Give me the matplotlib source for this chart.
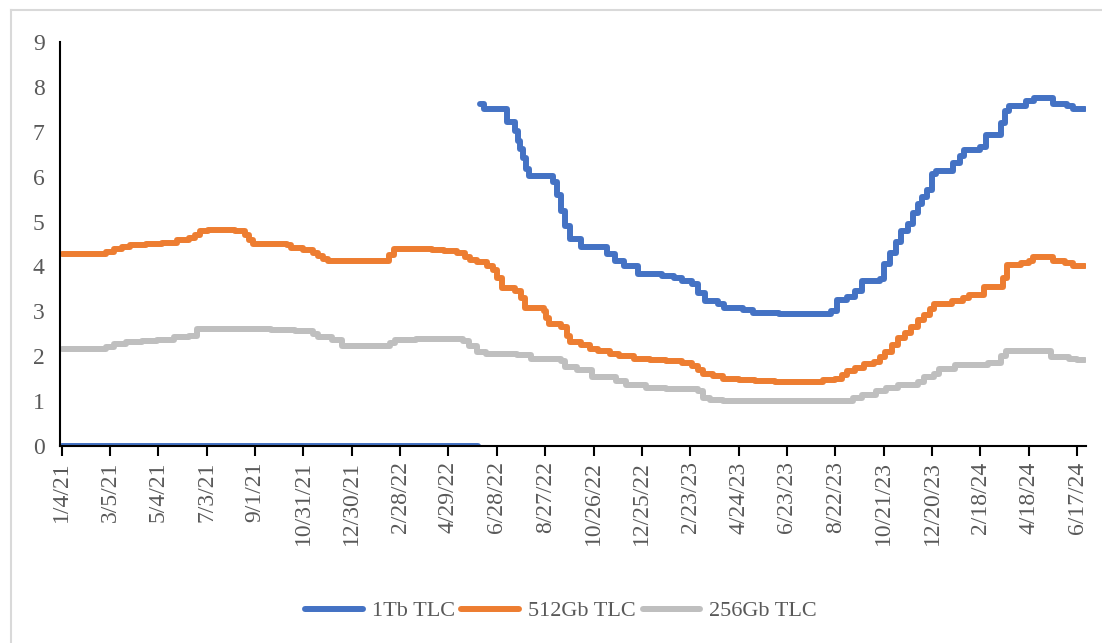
import numpy as np
import pandas as pd
import matplotlib
matplotlib.use("Agg")
import matplotlib.pyplot as plt
from matplotlib.lines import Line2D

# x-axis tick labels (every 60 days)
tick_labels = ["1/4/21", "3/5/21", "5/4/21", "7/3/21", "9/1/21", "10/31/21",
               "12/30/21", "2/28/22", "4/29/22", "6/28/22", "8/27/22", "10/26/22",
               "12/25/22", "2/23/23", "4/24/23", "6/23/23", "8/22/23", "10/21/23",
               "12/20/23", "2/18/24", "4/18/24", "6/17/24"]

# 1Tb TLC: zero until mid 2022, gap, then price steps
tb1_dates = ["2021-01-04", "2022-06-04", "2022-06-05",
             "2022-06-07", "2022-06-12", "2022-07-10", "2022-07-21", "2022-07-24",
             "2022-07-27", "2022-07-31", "2022-08-03", "2022-08-07", "2022-09-06",
             "2022-09-11", "2022-09-15", "2022-09-21", "2022-09-27", "2022-10-11",
             "2022-11-12", "2022-11-21", "2022-12-03", "2022-12-20", "2023-01-19",
             "2023-02-03", "2023-02-13", "2023-02-25", "2023-03-05", "2023-03-13",
             "2023-03-30", "2023-04-06", "2023-04-29", "2023-05-12", "2023-06-13",
             "2023-08-02", "2023-08-17", "2023-08-24", "2023-09-06", "2023-09-16",
             "2023-09-24", "2023-10-16", "2023-10-21", "2023-10-29", "2023-11-05",
             "2023-11-11", "2023-11-20", "2023-11-26", "2023-12-02", "2023-12-08",
             "2023-12-14", "2023-12-20", "2023-12-25", "2024-01-15", "2024-01-24",
             "2024-01-29", "2024-02-18", "2024-02-25", "2024-03-14", "2024-03-19",
             "2024-03-25", "2024-04-14", "2024-04-24", "2024-05-18", "2024-06-04",
             "2024-06-12", "2024-06-27"]
tb1_vals = [0, 0, np.nan,
            7.62, 7.50, 7.22, 7.02, 6.80,
            6.62, 6.42, 6.16, 6.01, 5.88,
            5.60, 5.23, 4.90, 4.62, 4.43,
            4.27, 4.13, 4.02, 3.83, 3.79,
            3.75, 3.67, 3.60, 3.40, 3.23,
            3.16, 3.07, 3.02, 2.96, 2.93,
            2.95, 3.00, 3.25, 3.32, 3.45,
            3.68, 3.72, 4.05, 4.30, 4.55,
            4.80, 4.95, 5.20, 5.40, 5.55,
            5.70, 6.05, 6.12, 6.30, 6.45,
            6.60, 6.65, 6.92, 7.20, 7.46,
            7.58, 7.68, 7.76, 7.62, 7.57,
            7.51, 7.51]

# 512Gb TLC
gb512_dates = ["2021-01-04", "2021-02-28", "2021-03-10", "2021-03-20", "2021-03-30",
               "2021-04-19", "2021-05-09", "2021-05-27", "2021-06-11", "2021-06-19",
               "2021-06-25", "2021-07-05", "2021-08-07", "2021-08-20", "2021-08-25",
               "2021-08-30", "2021-10-11", "2021-10-16", "2021-10-31", "2021-11-12",
               "2021-11-18", "2021-11-24", "2021-11-30", "2022-01-04", "2022-02-14",
               "2022-02-20", "2022-04-09", "2022-04-24", "2022-05-09", "2022-05-19",
               "2022-05-26", "2022-06-03", "2022-06-16", "2022-06-23", "2022-06-28",
               "2022-07-04", "2022-07-20", "2022-07-28", "2022-08-02", "2022-08-25",
               "2022-08-28", "2022-09-01", "2022-09-16", "2022-09-23", "2022-09-27",
               "2022-10-11", "2022-10-21", "2022-10-31", "2022-11-15", "2022-11-27",
               "2022-12-15", "2023-01-04", "2023-01-24", "2023-02-13", "2023-02-25",
               "2023-03-05", "2023-03-11", "2023-03-23", "2023-04-04", "2023-04-24",
               "2023-05-14", "2023-06-08", "2023-07-23", "2023-08-07", "2023-08-22",
               "2023-08-30", "2023-09-06", "2023-09-16", "2023-09-26", "2023-10-09",
               "2023-10-16", "2023-10-23", "2023-10-31", "2023-11-08", "2023-11-16",
               "2023-11-24", "2023-12-02", "2023-12-10", "2023-12-18", "2023-12-23",
               "2024-01-14", "2024-01-27", "2024-02-04", "2024-02-23", "2024-03-17",
               "2024-03-22", "2024-04-08", "2024-04-18", "2024-04-23", "2024-05-18",
               "2024-06-02", "2024-06-12", "2024-06-27"]
gb512_vals = [4.27, 4.32, 4.39, 4.44, 4.47,
              4.50, 4.52, 4.60, 4.64, 4.70,
              4.78, 4.81, 4.80, 4.70, 4.60,
              4.51, 4.48, 4.40, 4.36, 4.30,
              4.24, 4.17, 4.12, 4.13, 4.25,
              4.39, 4.37, 4.34, 4.29, 4.22,
              4.15, 4.09, 4.02, 3.92, 3.75,
              3.52, 3.45, 3.30, 3.08, 3.01,
              2.85, 2.72, 2.64, 2.45, 2.32,
              2.24, 2.17, 2.12, 2.05, 2.00,
              1.94, 1.91, 1.89, 1.85, 1.79,
              1.70, 1.61, 1.55, 1.50, 1.47,
              1.44, 1.42, 1.43, 1.46, 1.49,
              1.58, 1.66, 1.74, 1.82, 1.88,
              1.98, 2.10, 2.25, 2.40, 2.52,
              2.64, 2.80, 2.92, 3.05, 3.16,
              3.22, 3.30, 3.36, 3.55, 3.75,
              4.03, 4.08, 4.13, 4.20, 4.12,
              4.08, 4.02, 4.02]

# 256Gb TLC
gb256_dates = ["2021-01-04", "2021-02-28", "2021-03-10", "2021-03-25", "2021-04-14",
               "2021-05-02", "2021-05-24", "2021-06-11", "2021-06-21", "2021-09-21",
               "2021-10-21", "2021-11-12", "2021-11-18", "2021-12-05", "2021-12-18",
               "2022-02-16", "2022-02-22", "2022-03-20", "2022-05-17", "2022-05-24",
               "2022-06-03", "2022-06-15", "2022-07-03", "2022-07-23", "2022-08-10",
               "2022-09-16", "2022-09-21", "2022-10-06", "2022-10-24", "2022-11-23",
               "2022-12-05", "2022-12-30", "2023-01-24", "2023-03-05", "2023-03-11",
               "2023-03-20", "2023-04-04", "2023-09-13", "2023-09-24", "2023-10-12",
               "2023-10-24", "2023-11-08", "2023-12-02", "2023-12-10", "2023-12-22",
               "2023-12-28", "2024-01-17", "2024-02-28", "2024-03-15", "2024-03-21",
               "2024-05-16", "2024-06-07", "2024-06-17", "2024-06-27"]
gb256_vals = [2.16, 2.21, 2.27, 2.31, 2.34,
              2.37, 2.42, 2.46, 2.60, 2.59,
              2.56, 2.50, 2.42, 2.36, 2.23,
              2.30, 2.36, 2.38, 2.33, 2.22,
              2.10, 2.06, 2.04, 2.02, 1.93,
              1.89, 1.75, 1.70, 1.53, 1.45,
              1.35, 1.30, 1.26, 1.22, 1.08,
              1.02, 1.00, 1.08, 1.13, 1.22,
              1.30, 1.37, 1.42, 1.53, 1.60,
              1.71, 1.80, 1.85, 2.00, 2.11,
              1.99, 1.94, 1.92, 1.92]

series_names = ["1Tb TLC", "512Gb TLC", "256Gb TLC"]
colors = ["#4472C4", "#ED7D31", "#BFBFBF"]

text_color = "#595959"
plt.rcParams["font.family"] = ["Liberation Serif", "DejaVu Serif"]

fig = plt.figure(figsize=(11.02, 6.43), dpi=100)
ax = fig.add_axes([60 / 1102, 1 - 446 / 643, 1026 / 1102, 404 / 643])

all_data = [(tb1_dates, tb1_vals), (gb512_dates, gb512_vals), (gb256_dates, gb256_vals)]
for (d, v), name, c in zip(all_data, series_names, colors):
    ax.plot(pd.to_datetime(d), v, drawstyle="steps-post", color=c, lw=4.3,
            solid_capstyle="round", solid_joinstyle="round", label=name)

ticks = pd.to_datetime(tick_labels, format="%m/%d/%y")
ax.set_xticks(ticks)
ax.set_xticklabels(tick_labels, rotation=90, fontsize=17, color=text_color)
ax.set_xlim(pd.Timestamp("2021-01-02"), pd.Timestamp("2024-06-28"))

ax.set_ylim(0, 9)
ax.set_yticks(range(10))
ax.tick_params(axis="y", length=0, pad=11, labelsize=17, labelcolor=text_color)
ax.tick_params(axis="x", length=7, width=1.5, direction="out", pad=4)

for s in ["top", "right"]:
    ax.spines[s].set_visible(False)
for s in ["left", "bottom"]:
    ax.spines[s].set_color("black")
    ax.spines[s].set_linewidth(1.5)

leg = fig.legend(*ax.get_legend_handles_labels(), loc="center",
                 bbox_to_anchor=(561 / 1102, 1 - 611 / 643), ncol=3, frameon=False,
                 fontsize=16, handlelength=2.6, handletextpad=0.4, columnspacing=0.3)
for t in leg.get_texts():
    t.set_color(text_color)

# chart area border (light gray)
fig.add_artist(Line2D([11 / 1102, 1], [1 - 10 / 643, 1 - 10 / 643], color="#D9D9D9", lw=1.5))
fig.add_artist(Line2D([11 / 1102, 11 / 1102], [0, 1 - 10 / 643], color="#D9D9D9", lw=1.5))

fig.savefig("out.png", dpi=100, facecolor="white")
